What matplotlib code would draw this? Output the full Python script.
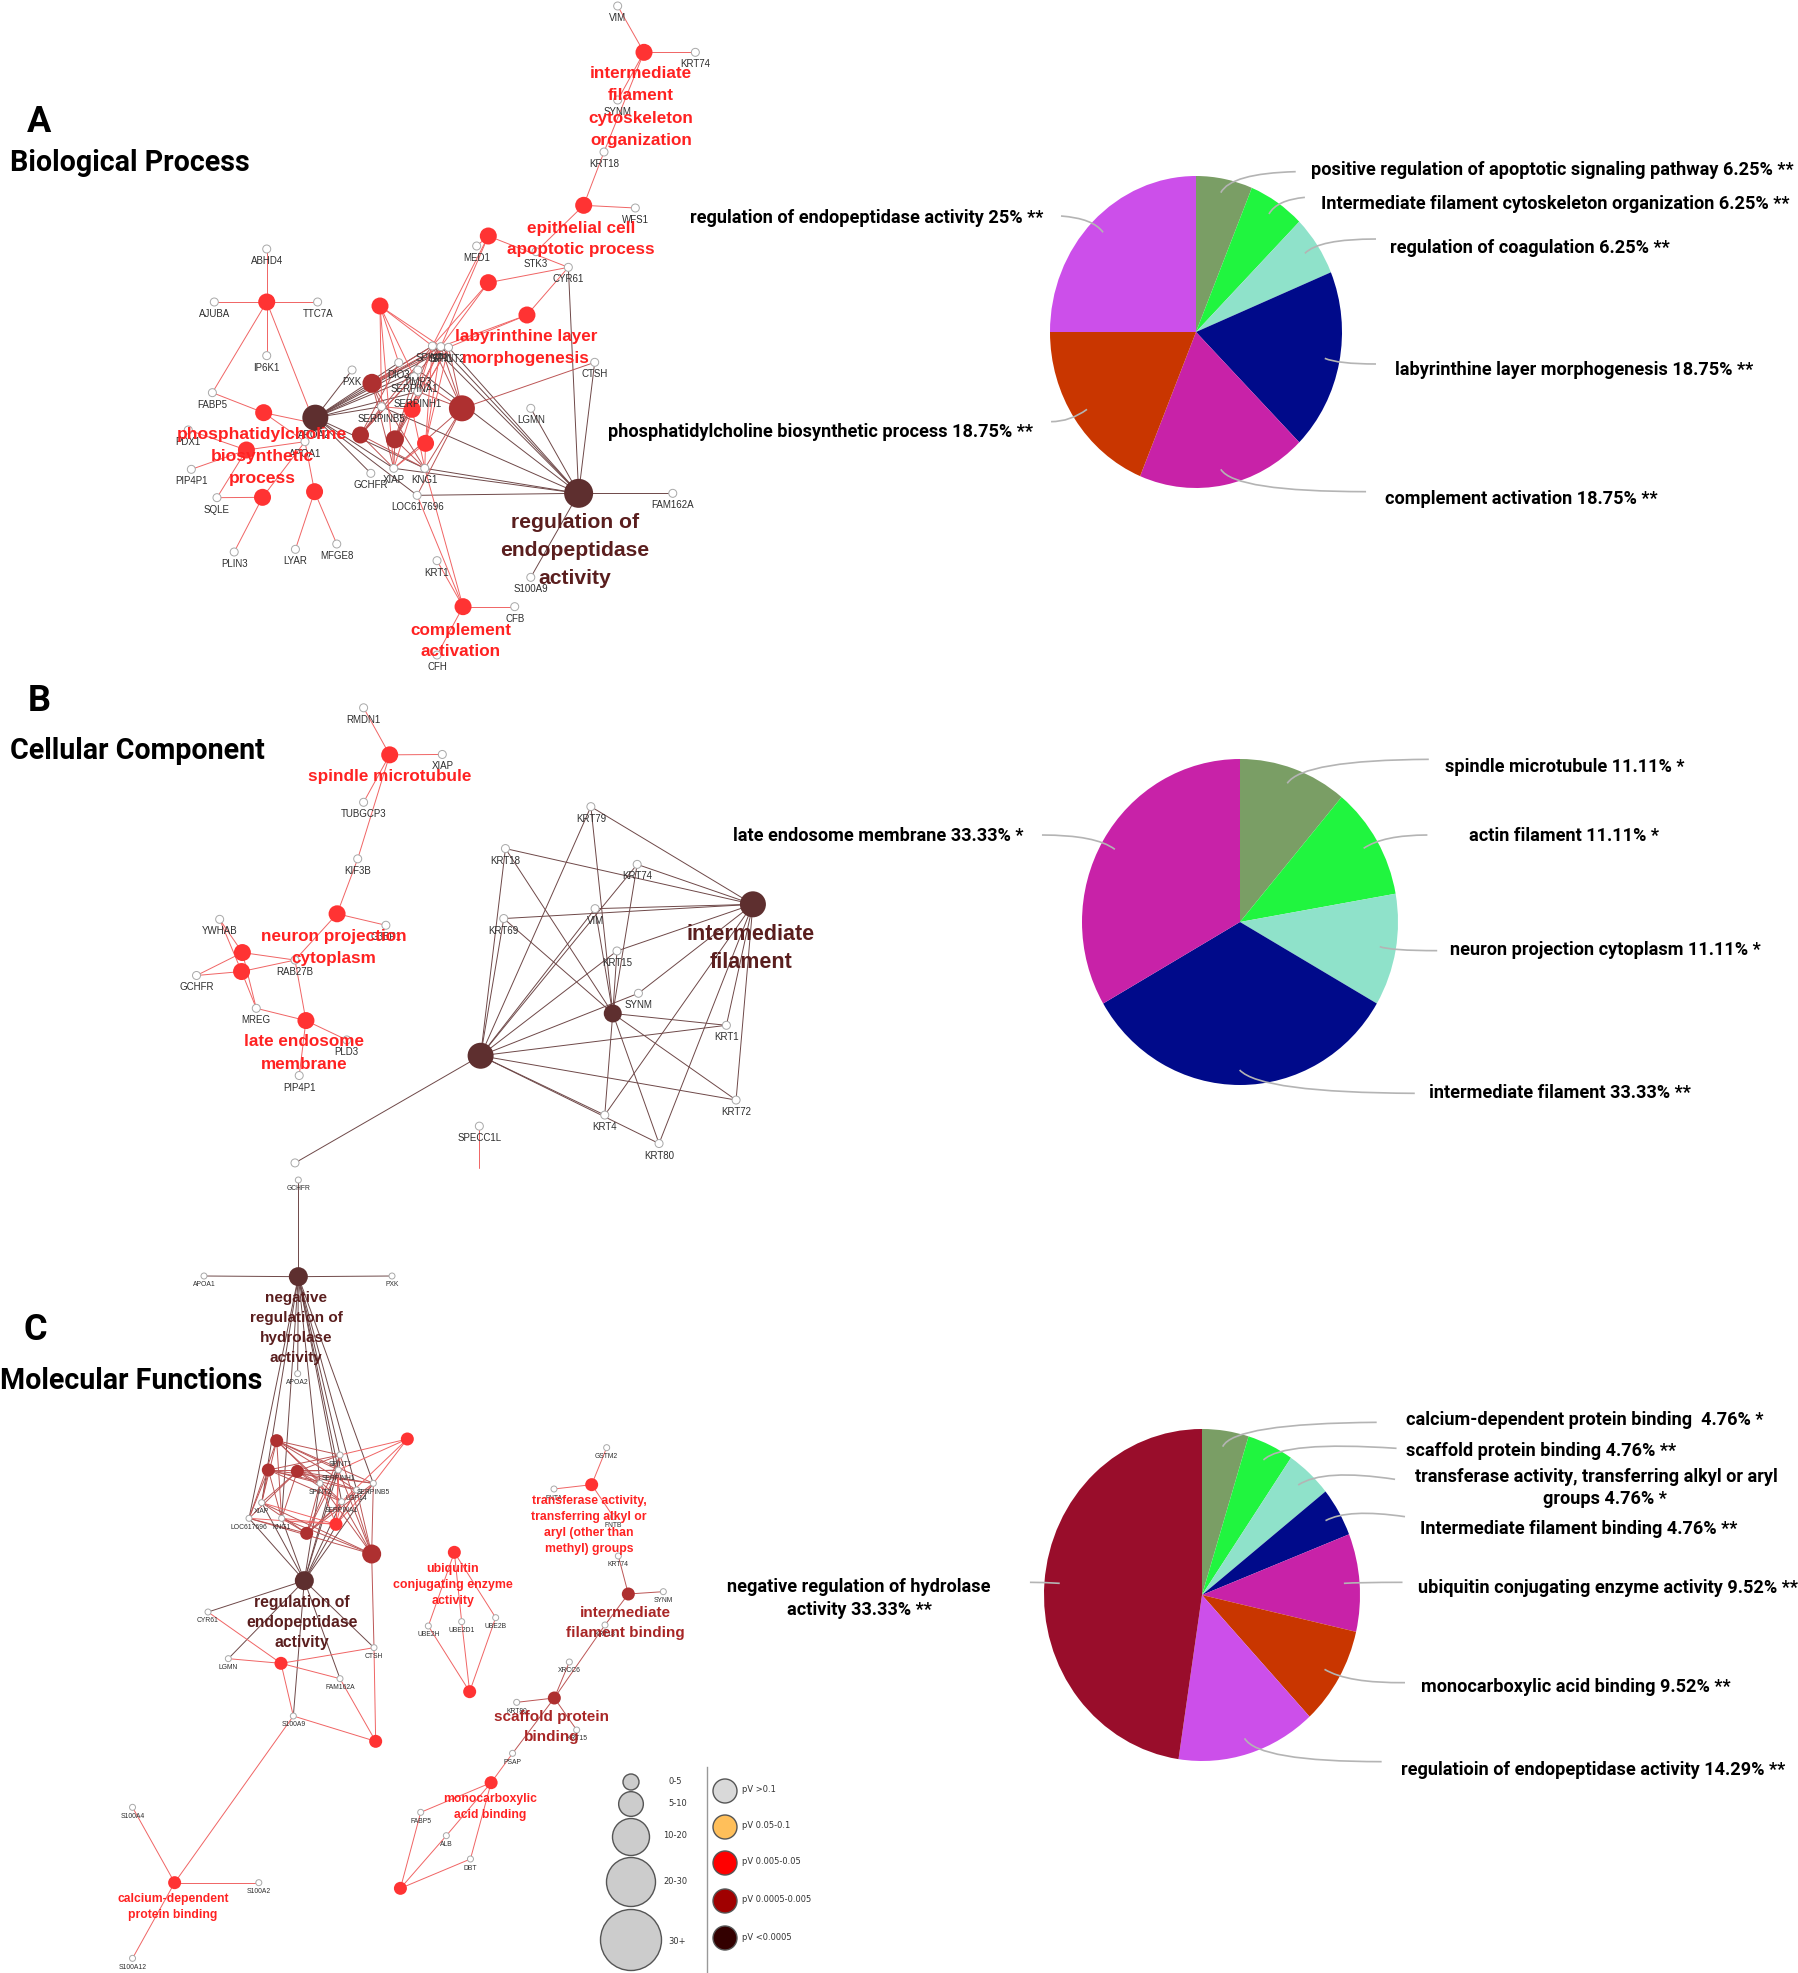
import matplotlib
matplotlib.use("Agg")
import matplotlib.pyplot as plt
from matplotlib.path import Path
from matplotlib.patches import PathPatch, Circle

W, H = 1799, 1973

# ---- pie data
pie_colors_a = ["#7A9E65", "#20F53F", "#8FE2CA", "#000A8A", "#C822A8", "#C93600", "#CC4FEA"]
pie_colors_b = ["#7A9E65", "#20F53F", "#8FE2CA", "#000A8A", "#C822A8"]
pie_colors_c = ["#7A9E65", "#20F53F", "#8FE2CA", "#000A8A", "#C822A8", "#C93600", "#CC4FEA", "#990D2B"]
pie_a = [6.25, 6.25, 6.25, 18.75, 18.75, 18.75, 25]
pie_b = [11.11, 11.11, 11.11, 33.33, 33.33]
pie_c = [4.76, 4.76, 4.76, 4.76, 9.52, 9.52, 14.29, 47.62]

labels_a = ["positive regulation of apoptotic signaling pathway 6.25% **",
            "Intermediate filament cytoskeleton organization 6.25% **",
            "regulation of coagulation 6.25% **",
            "labyrinthine layer morphogenesis 18.75% **",
            "complement activation 18.75% **",
            "phosphatidylcholine biosynthetic process 18.75% **",
            "regulation of endopeptidase activity 25% **"]
labels_b = ["spindle microtubule 11.11% *",
            "actin filament 11.11% *",
            "neuron projection cytoplasm 11.11% *",
            "intermediate filament 33.33% **",
            "late endosome membrane 33.33% *"]
labels_c = ["calcium-dependent protein binding  4.76% *",
            "scaffold protein binding 4.76% **",
            "transferase activity, transferring alkyl or aryl",
            "groups 4.76% *",
            "Intermediate filament binding 4.76% **",
            "ubiquitin conjugating enzyme activity 9.52% **",
            "monocarboxylic acid binding 9.52% **",
            "regulatioin of endopeptidase activity 14.29% **",
            "negative regulation of hydrolase",
            "activity 33.33% **"]

# ---- network edges, hub -> genes
a_cluster = ["SPINT1", "SPP1", "SPINT2", "DIO3", "TIMP3", "SERPINA1", "SERPINH1", "SERPINB5", "XIAP", "KNG1"]
a_edges = {
    "h1": ["ABHD4", "AJUBA", "TTC7A", "IP6K1", "FABP5", "APOA2"],
    "h2": ["FABP5", "APOA2", "APOA1"],
    "h3": ["PDX1", "PIP4P1", "SQLE", "APOA1"],
    "h4": ["SQLE", "PLIN3", "APOA1"],
    "h5": ["LYAR", "MFGE8", "APOA1"],
    "d1": a_cluster + ["PXK", "GCHFR", "LOC617696"],
    "d2": ["SPINT1", "SPP1", "SPINT2", "TIMP3", "SERPINB5", "XIAP", "KNG1", "LOC617696", "LGMN", "CTSH",
           "CYR61", "FAM162A", "S100A9"],
    "m1": ["SPINT1", "SPP1", "SPINT2", "SERPINA1", "SERPINH1", "XIAP", "KNG1", "CTSH", "LOC617696"],
    "m2": ["SPINT1", "SPP1", "SPINT2", "SERPINB5", "XIAP", "KNG1"],
    "m3": ["SPINT1", "SPP1", "DIO3", "SERPINA1", "SERPINB5", "XIAP", "KNG1"],
    "m4": ["SPINT1", "SPP1", "SPINT2", "SERPINA1", "SERPINH1", "XIAP", "KNG1"],
    "r1": ["SPINT1", "SPP1", "SPINT2", "XIAP", "KNG1", "SERPINB5"],
    "r2": ["SPINT1", "SPP1", "SPINT2", "XIAP", "KNG1"],
    "r3": ["SPINT1", "SPP1", "SERPINB5", "SERPINA1", "XIAP", "DIO3"],
    "r4": ["CYR61", "SPINT1", "SPP1"],
    "r5": ["CYR61", "MED1", "SPINT1", "SPP1"],
    "r6": ["CYR61", "SPINT2", "SPP1"],
    "e1": ["VIM", "KRT74", "SYNM", "KRT18"],
    "e2": ["KRT18", "WFS1", "STK3"],
    "c1": ["CFB", "CFH", "KRT1", "LOC617696", "KNG1"],
}
b_edges = {
    "sm": ["RMDN1", "XIAP", "TUBGCP3", "KIF3B"],
    "np": ["KIF3B", "G3BP1", "RAB27B"],
    "b1": ["YWHAB", "GCHFR", "RAB27B", "MREG"],
    "b2": ["YWHAB", "GCHFR", "RAB27B", "MREG"],
    "le": ["RAB27B", "MREG", "PLD3", "PIP4P1"],
    "big": ["KRT79", "KRT18", "KRT74", "KRT69", "VIM", "KRT15", "SYNM", "KRT1", "KRT72", "KRT4", "KRT80", "lone"],
    "small": ["KRT79", "KRT18", "KRT74", "KRT69", "VIM", "KRT15", "KRT1", "KRT72", "KRT4", "KRT80"],
    "if": ["KRT79", "KRT18", "KRT74", "KRT69", "VIM", "KRT15", "SYNM", "KRT1", "KRT72", "KRT4", "KRT80"],
    "sp": ["SPECC1L", "tail"],
}
c_cluster = ["SPINT1", "SERPINH1", "SPINT2", "SERPINB5", "USP14", "SERPINA1", "XIAP", "LOC617696", "KNG1"]
c_edges = {
    "neg": c_cluster + ["APOA1", "PXK", "GCHFR", "APOA2"],
    "reg": c_cluster + ["CYR61", "LGMN", "CTSH", "FAM162A", "S100A9"],
    "k1": c_cluster, "k2": c_cluster, "k3": c_cluster, "k5": c_cluster, "k6": c_cluster,
    "k4": ["SPINT1", "SERPINH1", "SERPINB5", "SERPINA1"],
    "k7": c_cluster + ["CTSH"],
    "k8": ["CYR61", "LGMN", "CTSH", "FAM162A", "S100A9"],
    "k9": ["FAM162A", "S100A9", "CTSH"],
    "u1": ["UBE2H", "UBE2D1", "UBE2B"],
    "u2": ["UBE2H", "UBE2D1", "UBE2B"],
    "t1": ["GSTM2", "FNTA", "FNTB"],
    "i1": ["KRT74", "SYNM", "KRT18"],
    "s1": ["XRCC6", "KRT80", "KRT15", "PSAP", "KRT18"],
    "mo": ["PSAP", "FABP5", "ALB", "DBT"],
    "mb": ["FABP5", "ALB", "DBT"],
    "ca": ["S100A4", "S100A2", "S100A12", "S100A9"],
}

size_bins = ["0-5", "5-10", "10-20", "20-30", "30+"]
pv_bins = ["pV >0.1", "pV 0.05-0.1", "pV 0.005-0.05", "pV 0.0005-0.005", "pV <0.0005"]


# ---- layout, read in zoom-crop coordinates and moved to image pixels
def place(pts, x0, y0, sx, sy):
    return {k: (x0 + v[0] / sx, y0 + v[1] / sy) for k, v in pts.items()}


a_pos = place({"h1": (305, 246), "ABHD4": (305, 87), "AJUBA": (168, 246), "TTC7A": (438, 246), "IP6K1": (305, 407),
               "FABP5": (163, 518), "h2": (297, 578), "h3": (252, 690), "PDX1": (100, 630), "PIP4P1": (108, 748),
               "SQLE": (175, 833), "h4": (294, 832), "PLIN3": (220, 996), "h5": (430, 815), "LYAR": (380, 988),
               "MFGE8": (488, 972), "APOA1": (405, 665), "APOA2": (430, 610), "d1": (432, 593), "d2": (1120, 820),
               "m1": (815, 565), "m2": (580, 490), "m3": (550, 645), "m4": (640, 658), "r1": (685, 568),
               "r2": (720, 670), "r3": (601, 258), "r4": (884, 188), "r5": (884, 48), "r6": (985, 285),
               "c1": (818, 1160), "CFB": (953, 1160), "CFH": (750, 1305), "SPINT1": (738, 378), "SPP1": (760, 380),
               "SPINT2": (780, 382), "DIO3": (650, 428), "TIMP3": (700, 450), "SERPINA1": (690, 470),
               "SERPINH1": (700, 515), "SERPINB5": (605, 560), "PXK": (528, 450), "GCHFR": (577, 760),
               "XIAP": (637, 745), "KNG1": (718, 745), "LOC617696": (698, 826), "LGMN": (995, 565),
               "CTSH": (1162, 427), "FAM162A": (1366, 820), "S100A9": (995, 1072), "KRT1": (750, 1022)},
              150, 220, 2.613, 3)
a_pos.update(place({"VIM": (503, 18), "KRT74": (736, 157), "e1": (582, 157), "SYNM": (503, 300), "KRT18": (462, 456),
                    "e2": (401, 616), "WFS1": (556, 624), "STK3": (258, 755), "MED1": (80, 738),
                    "CYR61": (355, 802)}, 450, 0, 3, 3))
a_size = {"h1": 17, "h2": 17, "h3": 17, "h4": 17, "h5": 17, "d1": 26, "d2": 29, "m1": 26, "m2": 19, "m3": 17, "m4": 18,
          "r1": 17, "r2": 17, "r3": 17, "r4": 17, "r5": 17, "r6": 17, "e1": 17, "e2": 17, "c1": 17}
a_level = {"d1": 2, "d2": 2, "m1": 1, "m2": 1, "m3": 1, "m4": 1}

b_pos = place({"RMDN1": (460, 45), "XIAP": (647, 163), "sm": (522, 164), "TUBGCP3": (460, 284), "KIF3B": (446, 427),
               "np": (397, 566), "G3BP1": (513, 595), "YWHAB": (118, 580), "b1": (172, 664), "b2": (170, 712),
               "GCHFR": (63, 722), "RAB27B": (297, 683), "MREG": (205, 805), "le": (323, 836), "PLD3": (420, 885),
               "PIP4P1": (307, 975), "if": (1385, 542), "big": (738, 925), "small": (1052, 818), "KRT79": (1000, 295),
               "KRT18": (797, 401), "KRT74": (1110, 441), "KRT69": (793, 578), "VIM": (1010, 553), "KRT15": (1062, 660),
               "SYNM": (1113, 767), "KRT1": (1322, 848), "KRT72": (1345, 1037), "KRT4": (1033, 1075),
               "KRT80": (1162, 1147), "SPECC1L": (735, 1103), "sp": (735, 1210), "tail": (735, 1210),
               "lone": (297, 1196)}, 170, 690, 2.376, 2.529)
b_size = {"sm": 17, "np": 17, "b1": 17, "b2": 17, "le": 17, "if": 26, "big": 26, "small": 18, "sp": 0}
b_level = {"if": 2, "big": 2, "small": 2}

c_pos = place({"neg": (445, 80), "APOA1": (162, 78), "PXK": (726, 78), "APOA2": (443, 371), "GCHFR": (445, -210),
               "k1": (380, 572), "k2": (355, 660), "k3": (442, 664), "k4": (772, 567), "k5": (470, 850), "k6": (558, 823),
               "k7": (665, 912), "reg": (463, 992), "SPINT1": (570, 615), "SERPINH1": (565, 660), "SPINT2": (510, 700),
               "SERPINB5": (670, 700), "USP14": (620, 720), "SERPINA1": (575, 755), "XIAP": (335, 758),
               "LOC617696": (297, 805), "KNG1": (395, 805), "k8": (393, 1240), "CYR61": (174, 1086), "LGMN": (235, 1226),
               "CTSH": (672, 1193), "FAM162A": (570, 1286), "S100A9": (430, 1398), "k9": (677, 1474), "u1": (913, 907),
               "UBE2H": (835, 1128), "UBE2D1": (935, 1115), "UBE2B": (1037, 1103), "u2": (959, 1325),
               "GSTM2": (1370, 593), "FNTA": (1212, 717), "FNTB": (1390, 800), "t1": (1325, 704), "KRT74": (1405, 918),
               "i1": (1435, 1032), "SYNM": (1540, 1025), "KRT18": (1365, 1125), "XRCC6": (1258, 1236), "s1": (1213, 1344),
               "KRT80": (1100, 1357), "KRT15": (1280, 1440)}, 150, 1250, 3, 3)
c_pos.update(place({"PSAP": (1078, 460), "mo": (1022, 548), "FABP5": (838, 637), "ALB": (905, 707), "DBT": (968, 777),
                    "mb": (785, 865), "ca": (195, 848), "S100A4": (85, 622), "S100A2": (415, 848),
                    "S100A12": (85, 1075)}, 100, 1600, 2.613, 3))
c_size = {"neg": 19, "reg": 19, "k7": 19, "k1": 13, "k2": 13, "k3": 13, "k4": 13, "k5": 13, "k6": 13, "k8": 13, "k9": 13,
          "u1": 13, "u2": 13, "t1": 13, "i1": 13, "s1": 13, "mo": 13, "mb": 13, "ca": 13}
c_level = {"neg": 2, "reg": 2, "k1": 1, "k2": 1, "k3": 1, "k5": 1, "k7": 1, "i1": 1, "s1": 1}

hub_col = ["#FF3333", "#AE3030", "#5E2F2F"]
edge_col = ["#F06464", "#BC5555", "#6E4848"]
text_col = ["#FF2222", "#A82626", "#5A1E1E"]

fig = plt.figure(figsize=(W / 100, H / 100), dpi=100, facecolor="white")


def add_pie(values, colors, cx, cy, rx, ry):
    pa = fig.add_axes([(cx - rx) / W, 1 - (cy + ry) / H, 2 * rx / W, 2 * ry / H], zorder=1)
    pa.pie(values, colors=colors, startangle=90, counterclock=False, radius=1, wedgeprops={"linewidth": 0})
    pa.set_aspect("auto")
    pa.set_xlim(-1, 1)
    pa.set_ylim(-1, 1)


add_pie(pie_a, pie_colors_a, 1196, 332, 146, 156)
add_pie(pie_b, pie_colors_b, 1240, 922, 158, 163)
add_pie(pie_c, pie_colors_c, 1202, 1595, 158, 166)

ax = fig.add_axes([0, 0, 1, 1], zorder=3)
ax.set_xlim(0, W)
ax.set_ylim(H, 0)
ax.axis("off")
ax.patch.set_alpha(0)


def draw_network(edges, pos, size, level, gene_fs, gene_d, gene_off, hide=()):
    for hub, genes in edges.items():
        col = edge_col[level.get(hub, 0)]
        for g in genes:
            x0, y0 = pos[hub]
            x1, y1 = pos[g]
            ax.plot([x0, x1], [y0, y1], color=col, lw=0.7, zorder=2, solid_capstyle="round")
    for name, (x, y) in pos.items():
        if name in size:
            if size[name] > 0:
                ax.add_patch(Circle((x, y), size[name] / 2, fc=hub_col[level.get(name, 0)], ec="none", zorder=3))
        elif name not in hide:
            ax.add_patch(Circle((x, y), gene_d / 2, fc="white", ec="#A8A8A8", lw=0.7, zorder=3))
            ax.text(x, y + gene_off, name, ha="center", va="center", fontsize=gene_fs, color="#2E2E2E",
                    family="Liberation Sans", zorder=4)


draw_network(a_edges, a_pos, a_size, a_level, 7, 8, 12)
draw_network(b_edges, b_pos, b_size, b_level, 7, 8, 12, hide=("lone", "tail"))
ax.add_patch(Circle(b_pos["lone"], 4, fc="white", ec="#A8A8A8", lw=0.7, zorder=3))
draw_network(c_edges, c_pos, c_size, c_level, 4.9, 6, 9)


# term labels, one line at a time
def term(x, y, lines, fs, lvl, dy):
    for i, s in enumerate(lines):
        ax.text(x, y + 1 + i * dy, s, ha="center", va="center", fontsize=fs, color=text_col[lvl],
                family="Liberation Sans", weight="bold", zorder=5)


term(641, 73, ["intermediate", "filament", "cytoskeleton", "organization"], 12.3, 0, 22)
term(581, 227, ["epithelial cell", "apoptotic process"], 12.3, 0, 21.5)
term(526, 336, ["labyrinthine layer", "morphogenesis"], 12.3, 0, 22)
term(262, 433, ["phosphatidylcholine", "biosynthetic", "process"], 12.6, 0, 22.5)
term(575, 522, ["regulation of", "endopeptidase", "activity"], 15.2, 2, 27.5)
term(461, 629, ["complement", "activation"], 12.3, 0, 21.5)
term(390, 776, ["spindle microtubule"], 12.3, 0, 0)
term(334, 935, ["neuron projection", "cytoplasm"], 12.3, 0, 22)
term(304, 1041, ["late endosome", "membrane"], 12.3, 0, 22.5)
term(751, 933, ["intermediate", "filament"], 15.5, 2, 28)
term(296, 1297, ["negative", "regulation of", "hydrolase", "activity"], 11, 2, 20)
term(302, 1602, ["regulation of", "endopeptidase", "activity"], 11.3, 2, 20)
term(589, 1500, ["transferase activity,", "transferring alkyl or", "aryl (other than", "methyl) groups"], 8.8, 0, 16)
term(453, 1568, ["ubiquitin", "conjugating enzyme", "activity"], 8.9, 0, 16)
term(625, 1612, ["intermediate", "filament binding"], 11, 1, 20)
term(552, 1716, ["scaffold protein", "binding"], 11, 1, 19.5)
term(490, 1798, ["monocarboxylic", "acid binding"], 8.7, 0, 16)
term(173, 1898, ["calcium-dependent", "protein binding"], 8.7, 0, 16)


# pie labels and leader curves
def leader(p0, p1, p2):
    ax.add_patch(PathPatch(Path([p0, p1, p2], [Path.MOVETO, Path.CURVE3, Path.CURVE3]), fc="none", ec="#B4B4B4",
                           lw=1.2, zorder=2))


def leaders(curves, x0, y0, sx, sy):
    for c in curves:
        leader(*[(x0 + x / sx, y0 + y / sy) for x, y in c])


leaders([[(812, 158), (825, 100), (910, 95)], [(875, 222), (885, 180), (922, 172)],
         [(922, 340), (940, 297), (1015, 297)], [(948, 655), (965, 672), (1015, 672)],
         [(812, 988), (830, 1055), (1002, 1055)], [(637, 808), (615, 845), (590, 845)],
         [(658, 277), (645, 235), (603, 228)]], 600, 140, 1.308, 3)
leaders([[(838, 130), (860, 60), (1040, 58)], [(947, 325), (975, 285), (1038, 285)],
         [(970, 620), (985, 632), (1052, 632)], [(770, 990), (800, 1058), (1020, 1060)],
         [(592, 328), (565, 285), (488, 285)]], 700, 740, 1.427, 3)
leaders([[(408, 140), (430, 70), (718, 67)], [(490, 180), (530, 122), (758, 145)],
         [(560, 255), (610, 205), (755, 238)], [(615, 362), (660, 325), (775, 350)],
         [(652, 550), (680, 547), (770, 547)], [(613, 808), (660, 850), (775, 848)],
         [(452, 1015), (480, 1085), (728, 1085)], [(80, 550), (50, 547), (20, 547)]], 1020, 1400, 2.013, 3)


def pie_text(x, y, s, ha="left"):
    ax.text(x, y + 1, s, ha=ha, va="center", fontsize=13.1, color="black", family="Roboto", weight="bold", zorder=5)


for s, (x, y) in zip(labels_a, [(1311, 169), (1321, 203), (1390, 247), (1395, 369), (1385, 498), (608, 431), (690, 217)]):
    pie_text(x, y, s)
for s, (x, y) in zip(labels_b, [(1445, 766), (1469, 835), (1450, 949), (1429, 1092), (733, 835)]):
    pie_text(x, y, s)
for s, (x, y) in zip(labels_c[:8], [(1406, 1419), (1406, 1450), (1415, 1476), (1543, 1498), (1420, 1528), (1418, 1587),
                                    (1421, 1686), (1401, 1769)]):
    pie_text(x, y, s)
pie_text(859, 1586, labels_c[8], ha="center")
pie_text(859, 1609, labels_c[9], ha="center")

# panel letters and titles
for s, x, y in [("A", 39, 122), ("B", 39, 701), ("C", 35, 1330)]:
    ax.text(x, y, s, ha="center", va="center", fontsize=26, color="black", family="Roboto", weight="bold")
for s, x, y in [("Biological Process", 10, 163), ("Cellular Component", 10, 751), ("Molecular Functions", 0, 1381)]:
    ax.text(x, y, s, ha="left", va="center", fontsize=20.6, color="black", family="Roboto", weight="bold")

# legend
size_d = [16, 24.7, 37, 49, 61]
size_y = [1782, 1804, 1837, 1882, 1940]
size_lab = [(675, 1781), (678, 1804), (675, 1836), (675, 1881), (677, 1941)]
for s, d, y, (lx, ly) in zip(size_bins, size_d, size_y, size_lab):
    ax.add_patch(Circle((631, y), d / 2, fc="#CCCCCC", ec="#555555", lw=1, zorder=3))
    ax.text(lx, ly, s, ha="center", va="center", fontsize=6, color="#333333")
ax.plot([707, 707], [1767, 1972], color="#999999", lw=1)
pv_colors = ["#D9D9D9", "#FFBF5A", "#FF0000", "#A00000", "#330000"]
pv_y = [1791, 1827, 1863, 1901, 1938]
for s, col, y in zip(pv_bins, pv_colors, pv_y):
    ax.add_patch(Circle((725, y), 12, fc=col, ec="#555555", lw=1, zorder=3))
    ax.text(742, y - 1, s, ha="left", va="center", fontsize=6, color="#333333")

fig.savefig("out.png", dpi=100, facecolor="white")
